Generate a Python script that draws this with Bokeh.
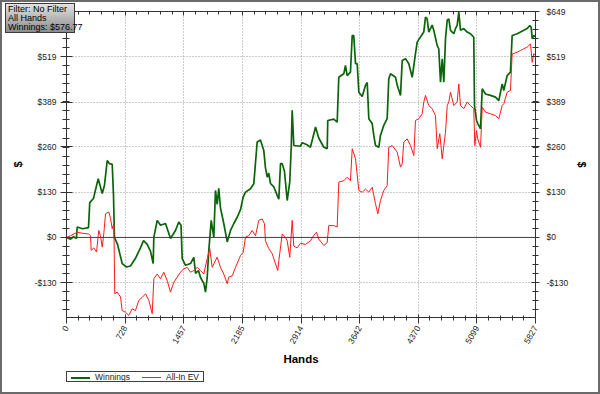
from math import pi
from bokeh.plotting import figure
from bokeh.models import (Range1d, LinearAxis, FixedTicker, Span, Div, ColumnDataSource)
from bokeh.embed import file_html
from bokeh.resources import INLINE

# ---------------- data ----------------
win_hands = [0, 50, 87, 124, 133, 199, 273, 289, 335, 394, 444, 472, 506, 534, 568, 584, 596,
             634, 692, 745, 795, 857, 919, 957, 1003, 1044, 1077, 1085, 1127, 1168, 1230, 1292,
             1354, 1395, 1423, 1437, 1478, 1541, 1582, 1603, 1640, 1665, 1706, 1727, 1748, 1768,
             1798, 1830, 1851, 1872, 1892, 1913, 1954, 1997, 2038, 2079, 2121, 2162, 2195, 2224,
             2286, 2327, 2369, 2410, 2451, 2472, 2494, 2513, 2534, 2576, 2618, 2638, 2659, 2680,
             2708, 2742, 2774, 2792, 2804, 2824, 2907, 2928, 2990, 3031, 3094, 3135, 3197, 3239,
             3246, 3321, 3363, 3383, 3445, 3466, 3487, 3528, 3550, 3569, 3591, 3612, 3632, 3674,
             3715, 3736, 3756, 3798, 3818, 3839, 3880, 3901, 3942, 3984, 4004, 4025, 4088, 4109,
             4150, 4171, 4212, 4253, 4295, 4336, 4357, 4398, 4439, 4460, 4481, 4501, 4543, 4563,
             4606, 4625, 4647, 4668, 4688, 4709, 4730, 4750, 4771, 4812, 4833, 4854, 4874, 4895,
             4936, 4978, 5019, 5060, 5069, 5094, 5110, 5144, 5165, 5206, 5268, 5330, 5371, 5413,
             5433, 5475, 5516, 5537, 5600, 5641, 5682, 5724, 5756, 5773, 5786, 5806, 5827]
winnings = [0, -5, 2, -3, 30, 25, 28, 100, 112, 169, 126, 150, 221, 212, 210, 120, 0,
            -20, -75, -85, -82, -60, -30, -9, -20, -40, -75, 0, 49, 35, 40, -3,
            20, 44, 35, -60, -80, -75, -57, -103, -95, -115, -132, -157, -115, -37,
            49, 0, 135, 95, 141, 85, 40, -13, 20, 40, 58, 80, 116, 130,
            140, 154, 274, 280, 250, 200, 173, 185, 155, 145, 121, 110, 212, 212,
            190, 106, 160, 259, 365, 264, 262, 272, 266, 259, 317, 285, 259, 255,
            336, 340, 331, 460, 470, 494, 465, 475, 580, 580, 499, 499, 417, 405,
            437, 445, 341, 327, 293, 264, 259, 293, 322, 341, 455, 470, 460, 437,
            408, 508, 513, 499, 460, 528, 561, 576, 590, 633, 628, 590, 610, 595,
            551, 542, 446, 513, 446, 571, 624, 628, 595, 585, 600, 610, 647, 595,
            600, 590, 585, 575, 379, 336, 327, 312, 427, 412, 408, 403, 393, 441,
            422, 465, 475, 580, 585, 590, 595, 600, 609, 604, 571, 580, 576.77]

ev_hands = [0, 50, 133, 199, 273, 298, 307, 339, 373, 401, 422, 444, 463, 485, 526, 547, 568,
            588, 600, 630, 671, 692, 733, 774, 816, 857, 898, 941, 982, 1023, 1065, 1085, 1127,
            1168, 1209, 1251, 1292, 1333, 1375, 1416, 1457, 1500, 1541, 1582, 1624, 1665, 1706,
            1748, 1780, 1810, 1830, 1872, 1913, 1954, 1997, 2016, 2059, 2100, 2162, 2195, 2224,
            2265, 2307, 2348, 2389, 2431, 2460, 2472, 2513, 2556, 2597, 2625, 2638, 2680, 2721,
            2742, 2774, 2804, 2824, 2866, 2907, 2969, 3031, 3072, 3106, 3135, 3197, 3239, 3259,
            3321, 3363, 3383, 3445, 3487, 3528, 3550, 3591, 3632, 3674, 3715, 3756, 3798, 3839,
            3868, 3901, 3942, 3984, 4004, 4047, 4109, 4150, 4171, 4191, 4233, 4274, 4315, 4336,
            4377, 4419, 4439, 4460, 4501, 4543, 4584, 4606, 4638, 4668, 4688, 4709, 4730, 4750,
            4771, 4812, 4854, 4874, 4895, 4936, 4978, 5019, 5060, 5073, 5094, 5110, 5144, 5165,
            5206, 5268, 5330, 5371, 5413, 5433, 5475, 5516, 5537, 5600, 5641, 5682, 5724, 5765,
            5786, 5806, 5827]
allin_ev = [0, 5, 15, 12, 10, 5, -37, -30, -42, 20, 5, -28, 10, 68, 73, 55, 25,
            40, -162, -157, -171, -210, -215, -224, -205, -210, -181, -172, -162, -181, -219, -119, -105,
            -119, -100, -124, -157, -129, -114, -100, -90, -86, -100, -95, -86, -95, -105,
            -61, -32, -86, -76, -57, -86, -105, -133, -114, -110, -86, -52, -43, 1,
            5, 20, 5, 49, 53, 39, -10, -32, -47, -76, -95, -67, 10, 0,
            -10, -57, 49, -25, -30, -17, -20, -10, 6, 15, -5, -23, -15, 34,
            34, 30, 159, 163, 173, 163, 255, 226, 135, 130, 139, 130, 144, 97,
            68, 106, 135, 149, 259, 264, 245, 202, 211, 274, 283, 264, 235, 336,
            341, 355, 389, 408, 379, 370, 350, 255, 298, 226, 264, 302, 379, 389,
            417, 379, 389, 441, 379, 370, 389, 379, 370, 264, 307, 283, 259, 374,
            360, 355, 350, 341, 379, 384, 417, 422, 527, 532, 537, 542, 547, 556,
            503, 528, 523]

total_hands = 5827
x_tick_labels = ["0", "728", "1457", "2185", "2914", "3642", "4370", "5099", "5827"]
y_tick_values = [-130, 0, 130, 260, 389, 519, 649]
y_tick_labels = ["-$130", "$0", "$130", "$260", "$389", "$519", "$649"]
series_names = ["Winnings", "All-In EV"]
series_colors = ["#0a640a", "#ff1a1a"]
info_lines = ["Filter: No Filter", "All Hands", "Winnings: $576.77"]

# ---------------- figure ----------------
FONT = "Liberation Sans"
x_ticks = [int(s) for s in x_tick_labels]
x_minor = [total_hands * k / 40 for k in range(41)]
y_minor = [649 * k / 25 for k in range(-8, 26)]
y_over = {v: s for v, s in zip(y_tick_values, y_tick_labels)}

p = figure(width=600, height=394, frame_width=469, frame_height=306,
           x_range=Range1d(0, total_hands), y_range=Range1d(-230, 649),
           output_backend="svg", toolbar_location=None,
           min_border_left=66, min_border_right=65, min_border_top=11, min_border_bottom=77,
           background_fill_color="white", border_fill_color="white")
p.outline_line_color = "#444444"

xt = FixedTicker(ticks=x_ticks, minor_ticks=x_minor)
yt = FixedTicker(ticks=y_tick_values, minor_ticks=y_minor)

def style_axis(ax):
    ax.axis_line_color = "#333333"
    ax.major_tick_line_color = "#333333"
    ax.minor_tick_line_color = "#333333"
    ax.major_label_text_font = FONT
    ax.major_label_text_font_size = "8.5px"
    ax.major_label_text_color = "#222222"
    ax.axis_label_text_font = FONT
    ax.axis_label_text_font_style = "bold"
    ax.axis_label_text_color = "black"

xa = p.xaxis[0]
xa.ticker = xt
style_axis(xa)
xa.major_tick_in = 3
xa.major_tick_out = 6
xa.minor_tick_in = 2
xa.minor_tick_out = 3
xa.major_label_orientation = pi / 3
xa.major_label_standoff = 3
xa.axis_label = "Hands"
xa.axis_label_text_font_size = "11.5px"
xa.axis_label_standoff = 4

ya = p.yaxis[0]
ya.ticker = yt
ya.major_label_overrides = y_over
style_axis(ya)
ya.major_tick_in = 6
ya.major_tick_out = 6
ya.minor_tick_in = 3
ya.minor_tick_out = 4
ya.major_label_standoff = 4
ya.axis_label = "$"
ya.axis_label_text_font_size = "11px"
ya.axis_label_standoff = 8

ra = LinearAxis(ticker=yt, major_label_overrides=y_over, axis_label="$")
style_axis(ra)
ra.major_tick_in = 4
ra.major_tick_out = 4
ra.minor_tick_in = 3
ra.minor_tick_out = 3
ra.major_label_standoff = 7
ra.axis_label_text_font_size = "11px"
ra.axis_label_standoff = 5
p.add_layout(ra, "right")

ta = LinearAxis(ticker=xt)
style_axis(ta)
ta.major_tick_in = 4
ta.major_tick_out = 0
ta.minor_tick_in = 3
ta.minor_tick_out = 0
ta.major_label_text_color = None
ta.major_label_text_font_size = "1px"
ta.major_label_standoff = 0
p.add_layout(ta, "above")

for g, t in ((p.xgrid[0], xt), (p.ygrid[0], yt)):
    g.ticker = t
    g.grid_line_color = "#999999"
    g.grid_line_dash = "1 2"
    g.grid_line_width = 1

p.add_layout(Span(location=0, dimension="width", line_color="#404040", line_width=1))

src_w = ColumnDataSource(dict(x=win_hands, y=winnings))
src_e = ColumnDataSource(dict(x=ev_hands, y=allin_ev))
r_w = p.line("x", "y", source=src_w, line_color=series_colors[0], line_width=1.7)
r_e = p.line("x", "y", source=src_e, line_color=series_colors[1], line_width=1)

# legend box below the chart (HTML overlay so it is not clipped)
sample = ('<span style="display:inline-block;width:19px;height:0;border-top:{w}px solid {c};'
          'vertical-align:middle;margin:0 5px 0 {m}px"></span>')
legend_html = (sample.format(w=2, c=series_colors[0], m=0) + series_names[0] +
               sample.format(w=1, c=series_colors[1], m=12) + series_names[1])
legend_div = Div(text=legend_html,
                 styles={"position": "absolute", "left": "66px", "top": "371px", "z-index": "10",
                         "background": "white", "border": "1px solid #404040",
                         "font-family": "'Liberation Sans'", "font-size": "8.5px",
                         "line-height": "11px", "height": "11px", "padding": "0 4px",
                         "color": "#222222", "white-space": "nowrap"})

info = Div(text="<br>".join(info_lines),
           styles={"position": "absolute", "left": "5px", "top": "3px", "z-index": "10",
                   "background": "linear-gradient(#e2e2e2, #8c8c8c)",
                   "border": "1px solid #3c3c3c", "font-family": "'Liberation Sans'",
                   "font-size": "9px", "line-height": "8.8px", "padding": "1px 2px",
                   "color": "black", "width": "70px", "white-space": "nowrap"})
frame_box = Div(text="",
                styles={"position": "absolute", "left": "0px", "top": "0px", "z-index": "5",
                        "width": "596px", "height": "390px", "border": "2px solid #6a6a6a",
                        "pointer-events": "none", "box-sizing": "content-box"})
p.elements = [frame_box, info, legend_div]

open("out.html", "w").write(file_html(p, INLINE))
